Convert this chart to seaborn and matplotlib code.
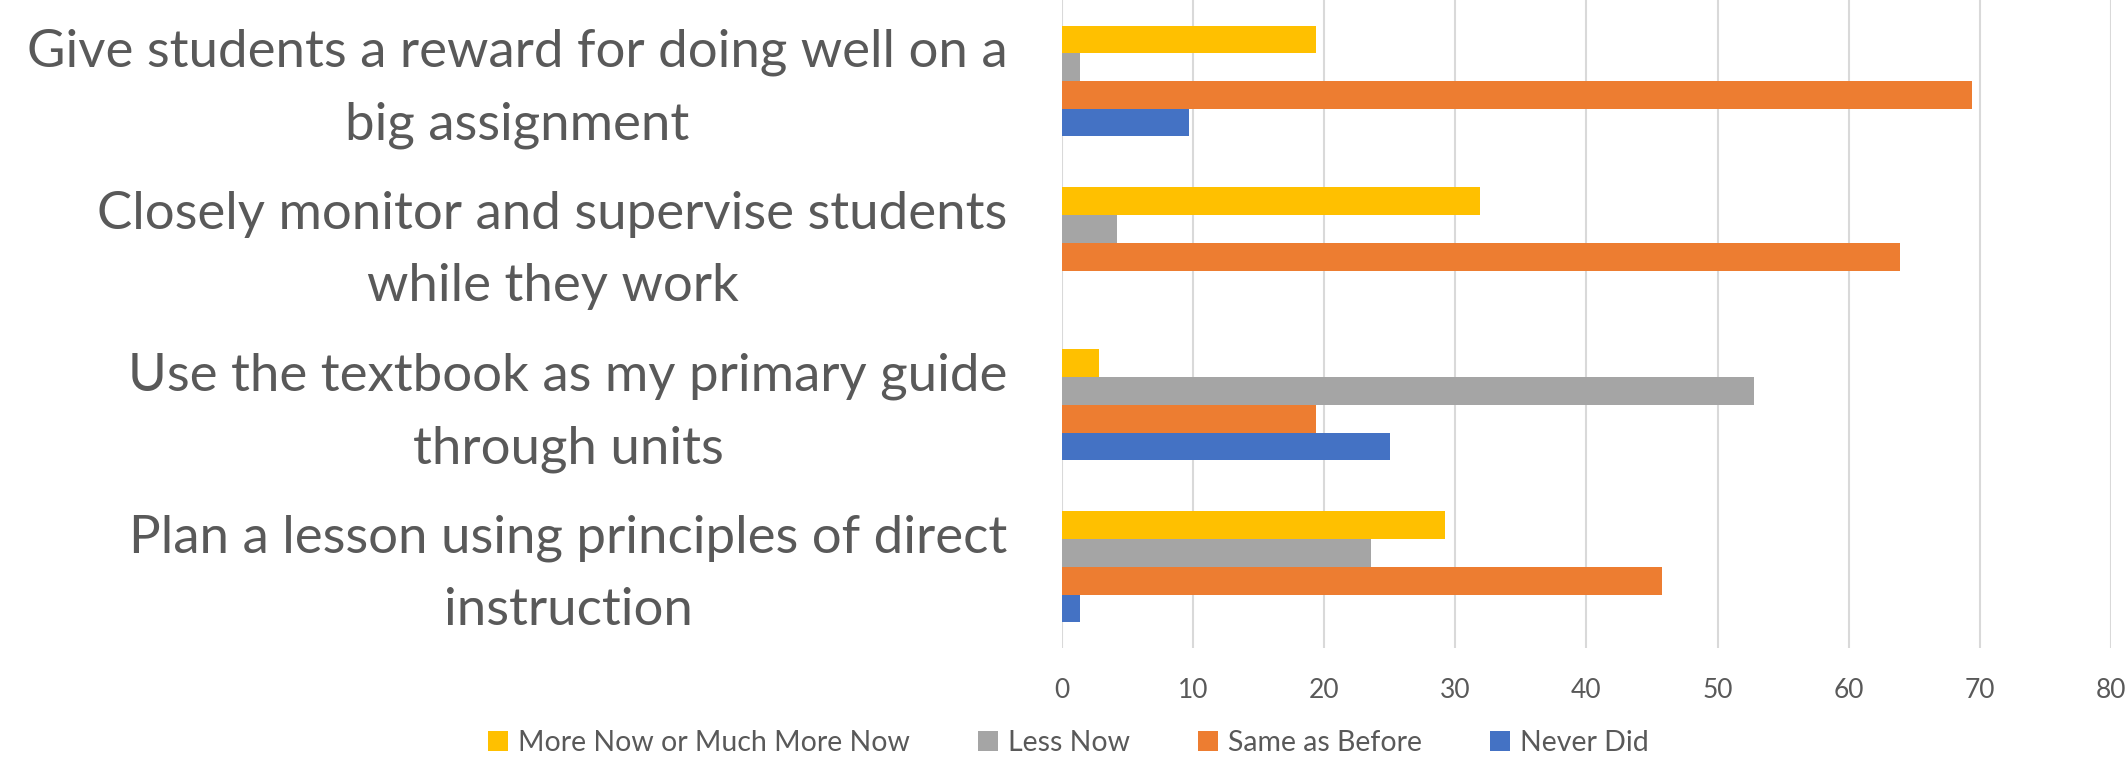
import numpy as np
import pandas as pd
import matplotlib
matplotlib.use("Agg")
import matplotlib.pyplot as plt
import matplotlib.transforms as mtransforms
import seaborn as sns

# ---------- DATA ----------
items = [
    "Give students a reward for doing well on a\nbig assignment",
    "Closely monitor and supervise students\nwhile they work",
    "Use the textbook as my primary guide\nthrough units",
    "Plan a lesson using principles of direct\ninstruction",
]
responses = ["More Now or Much More Now", "Less Now", "Same as Before", "Never Did"]

more_now = [19.4, 31.9, 2.8, 29.2]
less_now = [1.4, 4.2, 52.8, 23.6]
same_as_before = [69.4, 63.9, 19.4, 45.8]
never_did = [9.7, 0.0, 25.0, 1.4]

x_ticks = [0, 10, 20, 30, 40, 50, 60, 70, 80]

colors = ["#FFC000", "#A5A5A5", "#ED7D31", "#4472C4"]

# long form table for seaborn
series = [more_now, less_now, same_as_before, never_did]
rows = []
for resp, vals in zip(responses, series):
    for item, v in zip(items, vals):
        rows.append({"item": item, "response": resp, "value": v})
df = pd.DataFrame(rows)

# ---------- PLOT ----------
sns.set_style("white")
plt.rcParams['font.family'] = ['Lato', 'DejaVu Sans']
text_color = "#595959"

fig = plt.figure(figsize=(21.28, 7.64), dpi=100)
ax = fig.add_axes([0.499, 0.152, 0.493, 0.848])

sns.barplot(data=df, x="value", y="item", hue="response",
            order=items, hue_order=responses, palette=colors,
            orient="h", width=0.685, saturation=1, ax=ax,
            edgecolor="none", legend=True)

ax.set_xlim(0, 80)
ax.set_xticks(x_ticks)
ax.set_xlabel("")
ax.set_ylabel("")
ax.grid(axis="x", color="#D9D9D9", linewidth=1.5)
ax.set_axisbelow(True)
for s in ax.spines.values():
    s.set_visible(False)

ax.tick_params(axis="x", length=0, pad=22, labelsize=19, labelcolor=text_color)
# category labels: right aligned box, lines centred
ax.tick_params(axis="y", length=0, pad=39, labelsize=38, labelcolor=text_color)
shift_up = mtransforms.ScaledTranslation(0, 7 / 72, fig.dpi_scale_trans)
for tick in ax.yaxis.get_major_ticks():
    lab = tick.label1
    lab.set_horizontalalignment("right")
    lab.set_multialignment("center")
    lab.set_linespacing(1.66)
    lab.set_transform(lab.get_transform() + shift_up)

handles, labels = ax.get_legend_handles_labels()
ax.get_legend().remove()
fig.legend(handles, labels, loc="center", bbox_to_anchor=(0.502, 0.027),
           ncol=4, frameon=False, fontsize=20.5, labelcolor=text_color,
           handlelength=0.7, handleheight=0.7, handletextpad=0.35,
           columnspacing=2.4)

fig.savefig("out.png", dpi=100)
